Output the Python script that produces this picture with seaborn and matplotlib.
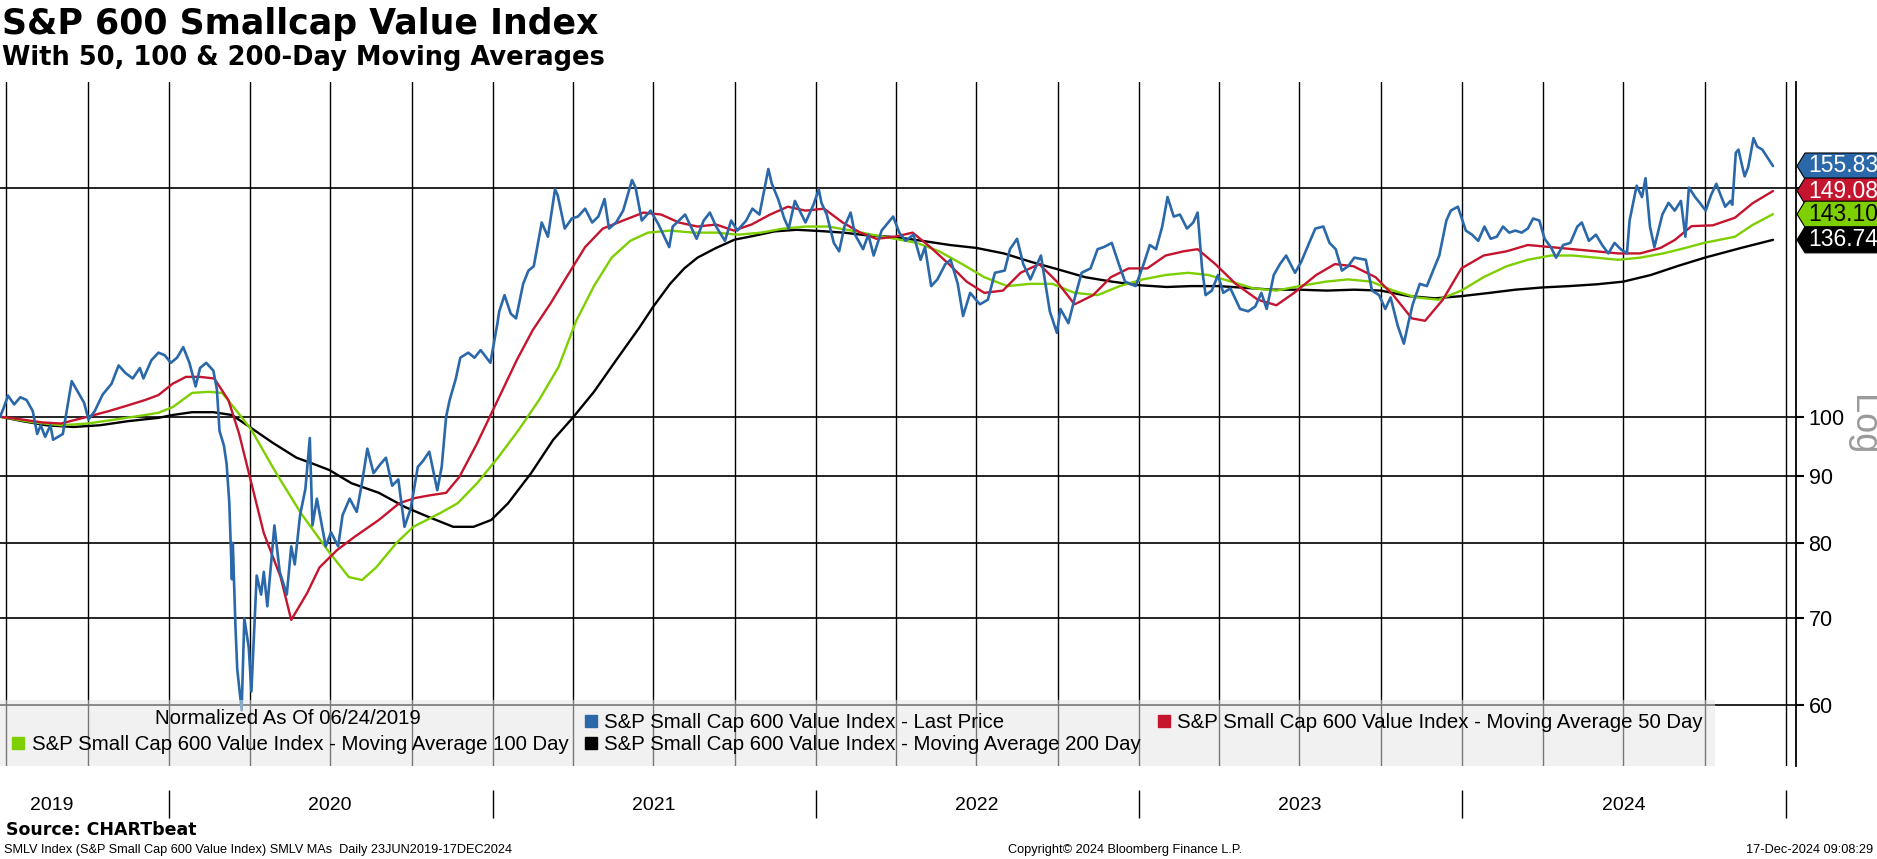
import matplotlib
matplotlib.use("Agg")
import matplotlib.pyplot as plt
import matplotlib.dates as mdates
import seaborn as sns
import pandas as pd
from matplotlib.lines import Line2D
from matplotlib.path import Path

# ---- data (normalized, 06/24/2019 = 100) ----
price_dates = [
    "2019-06-24", "2019-06-28", "2019-07-03", "2019-07-10", "2019-07-17", "2019-07-24", "2019-07-31",
    "2019-08-05", "2019-08-09", "2019-08-14", "2019-08-20", "2019-08-23", "2019-09-03", "2019-09-10",
    "2019-09-13", "2019-09-20", "2019-09-27", "2019-10-02", "2019-10-09", "2019-10-18", "2019-10-28",
    "2019-11-05", "2019-11-13", "2019-11-21", "2019-11-29", "2019-12-03", "2019-12-12", "2019-12-20",
    "2019-12-27", "2020-01-03", "2020-01-10", "2020-01-17", "2020-01-24", "2020-01-31", "2020-02-05",
    "2020-02-12", "2020-02-20", "2020-02-24", "2020-02-27", "2020-03-03", "2020-03-06", "2020-03-09",
    "2020-03-12", "2020-03-13", "2020-03-16", "2020-03-18", "2020-03-23", "2020-03-26", "2020-03-31",
    "2020-04-03", "2020-04-09", "2020-04-14", "2020-04-17", "2020-04-21", "2020-04-29", "2020-05-05",
    "2020-05-13", "2020-05-18", "2020-05-22", "2020-05-28", "2020-06-03", "2020-06-08", "2020-06-11",
    "2020-06-16", "2020-06-26", "2020-07-02", "2020-07-10", "2020-07-15", "2020-07-23", "2020-07-31",
    "2020-08-06", "2020-08-12", "2020-08-19", "2020-08-27", "2020-09-02", "2020-09-09", "2020-09-16",
    "2020-09-23", "2020-09-30", "2020-10-08", "2020-10-14", "2020-10-21", "2020-10-30", "2020-11-04",
    "2020-11-09", "2020-11-13", "2020-11-20", "2020-11-25", "2020-12-04", "2020-12-11", "2020-12-18",
    "2020-12-29", "2021-01-06", "2021-01-08", "2021-01-14", "2021-01-21", "2021-01-27", "2021-02-04",
    "2021-02-10", "2021-02-16", "2021-02-25", "2021-03-04", "2021-03-12", "2021-03-15", "2021-03-23",
    "2021-03-31", "2021-04-07", "2021-04-15", "2021-04-23", "2021-04-30", "2021-05-07", "2021-05-12",
    "2021-05-20", "2021-05-28", "2021-06-07", "2021-06-11", "2021-06-18", "2021-06-28", "2021-07-07",
    "2021-07-19", "2021-07-23", "2021-07-30", "2021-08-06", "2021-08-19", "2021-08-27", "2021-09-03",
    "2021-09-10", "2021-09-20", "2021-09-27", "2021-10-04", "2021-10-14", "2021-10-21", "2021-10-29",
    "2021-11-08", "2021-11-12", "2021-11-19", "2021-11-26", "2021-12-01", "2021-12-08", "2021-12-20",
    "2021-12-29", "2022-01-04", "2022-01-07", "2022-01-13", "2022-01-21", "2022-01-27", "2022-02-02",
    "2022-02-09", "2022-02-14", "2022-02-23", "2022-03-01", "2022-03-07", "2022-03-16", "2022-03-29",
    "2022-04-05", "2022-04-12", "2022-04-21", "2022-04-29", "2022-05-04", "2022-05-11", "2022-05-18",
    "2022-05-27", "2022-06-02", "2022-06-10", "2022-06-16", "2022-06-24", "2022-07-05", "2022-07-14",
    "2022-07-22", "2022-08-02", "2022-08-08", "2022-08-16", "2022-08-23", "2022-08-31", "2022-09-12",
    "2022-09-22", "2022-09-30", "2022-10-04", "2022-10-13", "2022-10-21", "2022-10-28", "2022-11-07",
    "2022-11-15", "2022-11-22", "2022-12-01", "2022-12-09", "2022-12-16", "2022-12-28", "2023-01-06",
    "2023-01-13", "2023-01-20", "2023-01-27", "2023-02-02", "2023-02-09", "2023-02-16", "2023-02-24",
    "2023-03-03", "2023-03-08", "2023-03-13", "2023-03-17", "2023-03-24", "2023-03-31", "2023-04-06",
    "2023-04-14", "2023-04-25", "2023-05-04", "2023-05-12", "2023-05-19", "2023-05-25", "2023-06-02",
    "2023-06-09", "2023-06-16", "2023-06-26", "2023-07-03", "2023-07-12", "2023-07-19", "2023-07-28",
    "2023-08-04", "2023-08-11", "2023-08-18", "2023-08-25", "2023-09-01", "2023-09-14", "2023-09-21",
    "2023-09-29", "2023-10-06", "2023-10-12", "2023-10-20", "2023-10-27", "2023-11-01", "2023-11-06",
    "2023-11-14", "2023-11-22", "2023-11-30", "2023-12-06", "2023-12-14", "2023-12-19", "2023-12-27",
    "2024-01-05", "2024-01-12", "2024-01-19", "2024-01-26", "2024-02-02", "2024-02-09", "2024-02-16",
    "2024-02-23", "2024-03-01", "2024-03-08", "2024-03-15", "2024-03-21", "2024-03-28", "2024-04-03",
    "2024-04-10", "2024-04-16", "2024-04-24", "2024-05-02", "2024-05-10", "2024-05-15", "2024-05-23",
    "2024-05-31", "2024-06-07", "2024-06-14", "2024-06-21", "2024-06-28", "2024-07-05", "2024-07-08",
    "2024-07-12", "2024-07-16", "2024-07-22", "2024-07-26", "2024-07-31", "2024-08-05", "2024-08-09",
    "2024-08-14", "2024-08-21", "2024-08-28", "2024-09-04", "2024-09-09", "2024-09-13", "2024-09-20",
    "2024-09-27", "2024-10-02", "2024-10-08", "2024-10-14", "2024-10-18", "2024-10-24", "2024-10-30",
    "2024-11-01", "2024-11-05", "2024-11-08", "2024-11-12", "2024-11-15", "2024-11-19", "2024-11-25",
    "2024-11-29", "2024-12-05", "2024-12-10", "2024-12-17",
]
price_vals = [
    100.0, 101.5, 103.8, 102.2, 103.5, 103.0, 101.0,
    97.0, 98.5, 96.5, 98.5, 96.0, 97.0, 103.5,
    106.5, 104.5, 102.5, 99.5, 101.0, 104.0, 106.0,
    109.5, 108.0, 107.0, 109.0, 107.0, 110.5, 112.0,
    111.5, 110.0, 111.0, 113.1, 110.0, 105.5, 109.0,
    110.0, 108.5, 105.0, 97.5, 95.0, 92.0, 86.0,
    75.0, 80.0, 69.0, 64.0, 59.5, 70.0, 66.5,
    61.5, 75.5, 73.0, 76.0, 71.5, 82.5, 76.0,
    73.0, 79.5, 77.0, 84.0, 88.0, 96.3, 82.5,
    86.5, 79.5, 81.5, 79.5, 84.0, 86.5, 84.5,
    89.0, 94.5, 90.5, 92.0, 93.0, 88.5, 89.5,
    82.3, 85.0, 91.5, 92.5, 94.0, 87.8, 91.5,
    100.0, 103.0, 107.0, 111.0, 112.0, 111.0, 112.5,
    110.0, 118.0, 120.5, 124.0, 120.0, 119.0, 126.5,
    129.5, 130.5, 141.0, 137.5, 149.5, 148.0, 139.5,
    142.0, 142.5, 144.5, 141.0, 142.5, 147.0, 139.5,
    141.0, 144.0, 152.0, 150.0, 141.5, 144.0, 140.5,
    135.0, 140.0, 141.5, 143.0, 137.0, 141.5, 143.5,
    140.0, 136.5, 141.5, 139.0, 141.5, 144.5, 143.0,
    155.0, 151.0, 147.0, 142.0, 139.5, 146.5, 141.0,
    145.5, 149.5, 146.0, 143.0, 136.0, 134.0, 140.0,
    143.5, 138.0, 134.5, 138.0, 133.0, 139.0, 142.5,
    138.5, 136.5, 138.0, 132.0, 135.0, 126.0, 127.5,
    131.0, 132.0, 126.5, 119.5, 124.5, 122.0, 123.0,
    129.0, 129.5, 134.5, 137.0, 131.0, 127.5, 133.0,
    120.5, 116.0, 121.0, 118.0, 124.0, 129.0, 130.0,
    134.5, 135.0, 136.0, 131.0, 127.0, 126.0, 131.0,
    135.5, 134.5, 140.0, 147.5, 142.5, 143.0, 139.5,
    141.0, 143.5, 130.0, 124.0, 125.0, 128.5, 124.5,
    125.5, 121.0, 120.5, 121.5, 124.5, 121.0, 128.5,
    131.0, 133.0, 129.0, 131.5, 136.0, 139.5, 140.0,
    136.0, 134.5, 129.5, 130.5, 132.5, 132.0, 125.0,
    124.0, 121.0, 123.5, 117.5, 113.8, 118.0, 122.0,
    126.5, 126.0, 130.0, 133.0, 141.5, 144.0, 145.0,
    139.0, 138.0, 136.5, 140.0, 137.0, 137.5, 140.0,
    138.5, 139.0, 138.5, 139.5, 142.0, 141.5, 137.0,
    135.0, 132.5, 135.5, 136.0, 140.0, 141.0, 136.5,
    138.0, 135.5, 133.5, 136.0, 134.5, 133.5, 141.5,
    146.0, 150.5, 147.5, 152.5, 140.0, 135.0, 138.5,
    143.0, 146.0, 144.0, 146.5, 137.5, 150.0, 147.5,
    145.5, 144.0, 148.0, 151.0, 148.5, 145.0, 146.5,
    145.5, 159.5, 160.4, 156.0, 153.0, 155.5, 163.7,
    161.3, 160.4, 158.5, 155.83,
]

ma50_dates = [
    "2019-06-24", "2019-07-15", "2019-08-10", "2019-09-01", "2019-10-01", "2019-10-25", "2019-11-15",
    "2019-12-05", "2019-12-20", "2020-01-05", "2020-01-20", "2020-02-05", "2020-02-21", "2020-03-08",
    "2020-03-20", "2020-04-03", "2020-04-17", "2020-05-06", "2020-05-18", "2020-06-05", "2020-06-19",
    "2020-07-09", "2020-07-28", "2020-08-25", "2020-09-17", "2020-10-05", "2020-10-21", "2020-11-09",
    "2020-11-24", "2020-12-14", "2021-01-01", "2021-01-28", "2021-02-15", "2021-03-07", "2021-03-25",
    "2021-04-15", "2021-05-05", "2021-05-28", "2021-06-20", "2021-07-10", "2021-07-30", "2021-08-20",
    "2021-09-10", "2021-09-30", "2021-10-20", "2021-11-10", "2021-11-30", "2021-12-20", "2022-01-10",
    "2022-01-31", "2022-02-20", "2022-03-10", "2022-03-31", "2022-04-20", "2022-05-10", "2022-05-31",
    "2022-06-20", "2022-07-10", "2022-07-31", "2022-08-20", "2022-09-10", "2022-09-30", "2022-10-20",
    "2022-11-10", "2022-11-30", "2022-12-20", "2023-01-10", "2023-01-31", "2023-02-20", "2023-03-08",
    "2023-03-28", "2023-04-20", "2023-05-15", "2023-06-05", "2023-06-25", "2023-07-20", "2023-08-10",
    "2023-08-31", "2023-09-25", "2023-10-15", "2023-11-05", "2023-11-20", "2023-12-10", "2023-12-31",
    "2024-01-25", "2024-02-20", "2024-03-15", "2024-04-10", "2024-05-05", "2024-05-31", "2024-06-25",
    "2024-07-20", "2024-08-12", "2024-08-28", "2024-09-16", "2024-10-10", "2024-11-04", "2024-11-24",
    "2024-12-17",
]
ma50_vals = [
    100.0, 99.6, 99.0, 98.8, 100.0, 101.0, 102.0,
    103.0, 103.9, 106.0, 107.3, 107.3, 107.0, 103.0,
    97.1, 88.9, 81.4, 75.3, 69.8, 73.2, 76.6,
    79.0, 80.8, 83.3, 85.8, 86.6, 87.0, 87.4,
    89.9, 95.4, 101.2, 110.6, 116.6, 122.2, 128.0,
    135.0, 139.5, 141.5, 143.5, 143.0, 141.0, 140.0,
    140.5, 139.0, 140.5, 143.0, 145.0, 144.0, 144.5,
    141.0, 138.5, 137.0, 137.5, 138.5, 135.0, 131.0,
    127.0, 124.5, 125.0, 129.0, 131.0, 127.0, 122.0,
    124.0, 128.0, 130.0, 130.0, 133.0, 134.0, 134.5,
    131.0, 126.5, 123.0, 121.8, 124.5, 128.5, 131.0,
    130.5, 128.0, 124.0, 119.0, 118.5, 123.0, 130.0,
    133.0, 134.0, 135.5, 135.0, 134.5, 134.0, 133.5,
    133.5, 134.8, 136.7, 140.1, 140.3, 142.2, 145.9,
    149.08,
]

ma100_dates = [
    "2019-06-24", "2019-08-01", "2019-09-01", "2019-10-01", "2019-11-01", "2019-12-01", "2019-12-20",
    "2020-01-05", "2020-01-27", "2020-02-15", "2020-03-01", "2020-03-14", "2020-04-03", "2020-05-01",
    "2020-05-29", "2020-06-28", "2020-07-22", "2020-08-06", "2020-08-22", "2020-09-14", "2020-10-03",
    "2020-11-02", "2020-11-22", "2020-12-14", "2021-01-07", "2021-01-30", "2021-02-22", "2021-03-16",
    "2021-04-05", "2021-04-25", "2021-05-15", "2021-06-05", "2021-06-25", "2021-07-20", "2021-08-15",
    "2021-09-10", "2021-10-05", "2021-10-31", "2021-11-25", "2021-12-20", "2022-01-15", "2022-02-10",
    "2022-03-05", "2022-03-31", "2022-04-25", "2022-05-20", "2022-06-15", "2022-07-10", "2022-08-05",
    "2022-08-31", "2022-09-25", "2022-10-20", "2022-11-15", "2022-12-10", "2023-01-05", "2023-01-31",
    "2023-02-25", "2023-03-20", "2023-04-15", "2023-05-10", "2023-06-05", "2023-07-01", "2023-07-31",
    "2023-08-25", "2023-09-20", "2023-10-15", "2023-11-10", "2023-12-05", "2023-12-31", "2024-01-25",
    "2024-02-20", "2024-03-15", "2024-04-10", "2024-05-05", "2024-05-31", "2024-06-25", "2024-07-20",
    "2024-08-15", "2024-09-09", "2024-09-30", "2024-11-04", "2024-11-24", "2024-12-17",
]
ma100_vals = [
    100.0, 99.0, 98.5, 98.8, 99.5, 100.2, 100.7,
    101.7, 104.3, 104.5, 104.3, 101.7, 97.7, 90.5,
    84.3, 79.0, 75.3, 74.9, 76.6, 80.0, 82.3,
    84.3, 85.8, 88.9, 93.1, 97.7, 103.0, 109.2,
    118.5, 126.0, 132.5, 136.5, 138.5, 139.0, 138.5,
    138.5, 138.0, 138.5, 139.5, 140.0, 140.0, 139.0,
    138.0, 137.0, 136.0, 134.0, 131.0, 128.0, 126.0,
    126.5, 126.5, 124.5, 124.0, 126.0, 127.5, 128.5,
    129.0, 128.5, 127.0, 125.5, 125.0, 126.0, 127.0,
    127.5, 127.0, 125.0, 123.5, 123.0, 125.0, 128.0,
    130.5, 132.0, 133.0, 133.0, 132.5, 132.0, 132.5,
    133.5, 134.8, 136.0, 137.5, 140.4, 143.10,
]

ma200_dates = [
    "2019-06-24", "2019-07-20", "2019-08-15", "2019-09-15", "2019-10-15", "2019-11-15", "2019-12-20",
    "2020-01-05", "2020-01-27", "2020-02-20", "2020-03-12", "2020-04-03", "2020-04-27", "2020-05-24",
    "2020-06-10", "2020-06-30", "2020-07-25", "2020-08-25", "2020-09-24", "2020-10-21", "2020-11-17",
    "2020-12-10", "2020-12-30", "2021-01-18", "2021-02-13", "2021-03-10", "2021-04-01", "2021-04-25",
    "2021-05-20", "2021-06-15", "2021-07-01", "2021-07-20", "2021-08-05", "2021-08-20", "2021-09-10",
    "2021-10-01", "2021-10-20", "2021-11-15", "2021-12-10", "2022-01-05", "2022-02-01", "2022-03-01",
    "2022-04-01", "2022-05-01", "2022-06-01", "2022-07-01", "2022-08-01", "2022-09-01", "2022-10-01",
    "2022-11-01", "2022-12-01", "2023-01-01", "2023-02-01", "2023-03-01", "2023-04-01", "2023-05-01",
    "2023-06-01", "2023-07-01", "2023-08-01", "2023-09-01", "2023-10-01", "2023-11-01", "2023-12-01",
    "2024-01-01", "2024-02-01", "2024-03-01", "2024-04-01", "2024-05-01", "2024-06-01", "2024-07-01",
    "2024-08-01", "2024-09-01", "2024-10-01", "2024-11-11", "2024-12-17",
]
ma200_vals = [
    100.0, 99.2, 98.5, 98.2, 98.5, 99.2, 99.8,
    100.3, 100.8, 100.8, 100.3, 98.0, 95.5, 93.0,
    92.1, 91.0, 88.9, 87.4, 85.2, 83.7, 82.3,
    82.3, 83.3, 85.8, 90.5, 96.0, 99.8, 104.5,
    110.5, 117.0, 121.5, 126.5, 130.0, 132.5, 134.8,
    136.8, 137.6, 138.8, 139.2, 138.9, 138.5, 137.8,
    137.4, 136.5, 135.5, 134.8, 133.5, 131.5, 129.8,
    128.0, 127.0, 126.2, 125.8, 126.0, 126.0, 125.6,
    125.2, 125.2, 125.0, 125.2, 125.0, 123.8, 123.3,
    123.8, 124.5, 125.2, 125.7, 126.0, 126.4, 127.0,
    128.5, 130.6, 132.5, 134.8, 136.74,
]

last_vals = [155.83, 149.08, 143.10, 136.74]
y_ticks = [60, 70, 80, 90, 100, 150]
y_tick_labels = ["60", "70", "80", "90", "100", ""]
years = [2019, 2020, 2021, 2022, 2023, 2024]
year_label_dates = ["2019-08-21", "2020-07-01", "2021-07-01", "2022-07-01", "2023-07-01", "2024-07-01"]

BLUE = "#2a68aa"
RED = "#c4142e"
GREEN = "#7dcf00"
BLACK = "#000000"

names = {
    "px": "S&P Small Cap 600 Value Index - Last Price",
    "m50": "S&P Small Cap 600 Value Index - Moving Average 50 Day",
    "m100": "S&P Small Cap 600 Value Index - Moving Average 100 Day",
    "m200": "S&P Small Cap 600 Value Index - Moving Average 200 Day",
}

sns.set_theme(style="white")
plt.rcParams["font.family"] = ["Liberation Sans", "DejaVu Sans"]
plt.rcParams["text.color"] = "black"
plt.rcParams["xtick.color"] = "black"
plt.rcParams["ytick.color"] = "black"

W, H = 1877, 859
fig = plt.figure(figsize=(W / 100, H / 100), dpi=100, facecolor="white")
ax_l, ax_r, ax_t, ax_b = 0, 1796, 82, 766
ax = fig.add_axes([ax_l / W, 1 - ax_b / H, (ax_r - ax_l) / W, (ax_b - ax_t) / H])

px = pd.DataFrame({"date": pd.to_datetime(price_dates), "v": price_vals})
m50 = pd.DataFrame({"date": pd.to_datetime(ma50_dates), "v": ma50_vals})
m100 = pd.DataFrame({"date": pd.to_datetime(ma100_dates), "v": ma100_vals})
m200 = pd.DataFrame({"date": pd.to_datetime(ma200_dates), "v": ma200_vals})

sns.lineplot(data=m200, x="date", y="v", ax=ax, color=BLACK, lw=1.7, zorder=3)
sns.lineplot(data=m100, x="date", y="v", ax=ax, color=GREEN, lw=1.7, zorder=3)
sns.lineplot(data=m50, x="date", y="v", ax=ax, color=RED, lw=1.7, zorder=3)
sns.lineplot(data=px, x="date", y="v", ax=ax, color=BLUE, lw=1.9, zorder=4)

ax.set_yscale("log")
ax.set_ylim(53.9, 180.8)
ax.set_xlim(pd.Timestamp("2019-06-24"), pd.Timestamp("2025-01-12"))
ax.set_xlabel("")
ax.set_ylabel("")

# grid: quarterly verticals, fixed horizontals
ax.xaxis.set_major_locator(mdates.MonthLocator(bymonth=[1, 4, 7, 10]))
ax.xaxis.set_major_formatter(plt.NullFormatter())
ax.tick_params(axis="x", length=0)
ax.yaxis.set_major_locator(plt.FixedLocator(y_ticks))
ax.yaxis.set_major_formatter(plt.FixedFormatter(y_tick_labels))
ax.yaxis.set_minor_locator(plt.NullLocator())
ax.yaxis.tick_right()
ax.tick_params(axis="y", which="major", direction="out", length=6, width=1.5,
               colors="black", labelsize=15.5, pad=3)
ax.grid(True, axis="x", color="black", lw=1.0)
ax.grid(True, axis="y", color="black", lw=1.2)
ax.set_axisbelow(True)
for side in ["left", "top", "bottom"]:
    ax.spines[side].set_visible(False)
ax.spines["right"].set_color("black")
ax.spines["right"].set_linewidth(1.3)

# year labels and separators below the plot
xt = ax.get_xaxis_transform()
for yr, d in zip(years, year_label_dates):
    ax.text(pd.Timestamp(d), (ax_b - 806) / (ax_b - ax_t), str(yr), transform=xt,
            ha="center", va="center", fontsize=14, color="black")
ax.vlines(pd.to_datetime([f"{y}-01-01" for y in years[1:] + [2025]]),
          (ax_b - 818) / (ax_b - ax_t), (ax_b - 790) / (ax_b - ax_t),
          transform=xt, color="black", lw=1.0, clip_on=False)

# legend
sq = dict(marker="s", linestyle="none", markersize=8)
blank = Line2D([], [], linestyle="none")
handles = [blank, Line2D([], [], color=GREEN, **sq), Line2D([], [], color=BLUE, **sq),
           Line2D([], [], color=BLACK, **sq), Line2D([], [], color=RED, **sq), blank]
labels = [" ", names["m100"], names["px"], names["m200"], names["m50"], " "]
leg = ax.legend(handles, labels, loc="lower left", bbox_to_anchor=(0, 0, 1715 / 1796, 0.2),
                mode="expand", ncol=3, fontsize=14.7, frameon=True, fancybox=False,
                facecolor="#e6e6e6", edgecolor="none", framealpha=0.52, borderaxespad=0,
                borderpad=0.6, labelspacing=0.15, handlelength=0.6, handletextpad=0.35,
                columnspacing=1.0)
leg.set_zorder(6)
ax.text(288 / 1796, (ax_b - 719) / (ax_b - ax_t), "Normalized As Of 06/24/2019",
        transform=ax.transAxes, ha="center", va="center", fontsize=14.7, zorder=7)


# price tags on the right edge
def tag_box(x0, y0, width, height, mutation_size):
    left = x0 - 3
    right = x0 + width + 40
    bottom, top = y0 - 1.5, y0 + height + 1.5
    mid = (bottom + top) / 2
    return Path([(left, bottom), (right, bottom), (right, top), (left, top),
                 (left - 8, mid), (left, bottom)], closed=True)


for v, c, tc in zip(last_vals, [BLUE, RED, GREEN, BLACK], ["white", "white", "black", "white"]):
    ax.annotate(f"{v:.2f}", xy=(1, v), xycoords=("axes fraction", "data"),
                xytext=(12, 0), textcoords="offset pixels", ha="left", va="center",
                fontsize=16.5, color=tc, zorder=8,
                bbox=dict(boxstyle=tag_box, fc=c, ec="black", lw=0.8))

fig.text(1862 / W, 1 - 425 / H, "Log", rotation=270, color="#9a9a9a", fontsize=26,
         ha="center", va="center")

# titles and footer
fig.text(2 / W, 1 - 24 / H, "S&P 600 Smallcap Value Index", fontsize=25, fontweight="bold",
         family="DejaVu Sans", color="black", ha="left", va="center")
fig.text(2 / W, 1 - 58 / H, "With 50, 100 & 200-Day Moving Averages", fontsize=18.5,
         fontweight="bold", family="DejaVu Sans", color="black", ha="left", va="center")
fig.text(6 / W, 1 - 830 / H, "Source: CHARTbeat", fontsize=12.5, fontweight="bold",
         family="DejaVu Sans", ha="left", va="center")
fig.text(4 / W, 1 - 850 / H,
         "SMLV Index (S&P Small Cap 600 Value Index) SMLV MAs  Daily 23JUN2019-17DEC2024",
         fontsize=9.2, ha="left", va="center")
fig.text(1125 / W, 1 - 850 / H, "Copyright\u00a9 2024 Bloomberg Finance L.P.", fontsize=9.2,
         ha="center", va="center")
fig.text(1873 / W, 1 - 850 / H, "17-Dec-2024 09:08:29", fontsize=9.2, ha="right", va="center")

fig.savefig("out.png", dpi=100, facecolor="white")
